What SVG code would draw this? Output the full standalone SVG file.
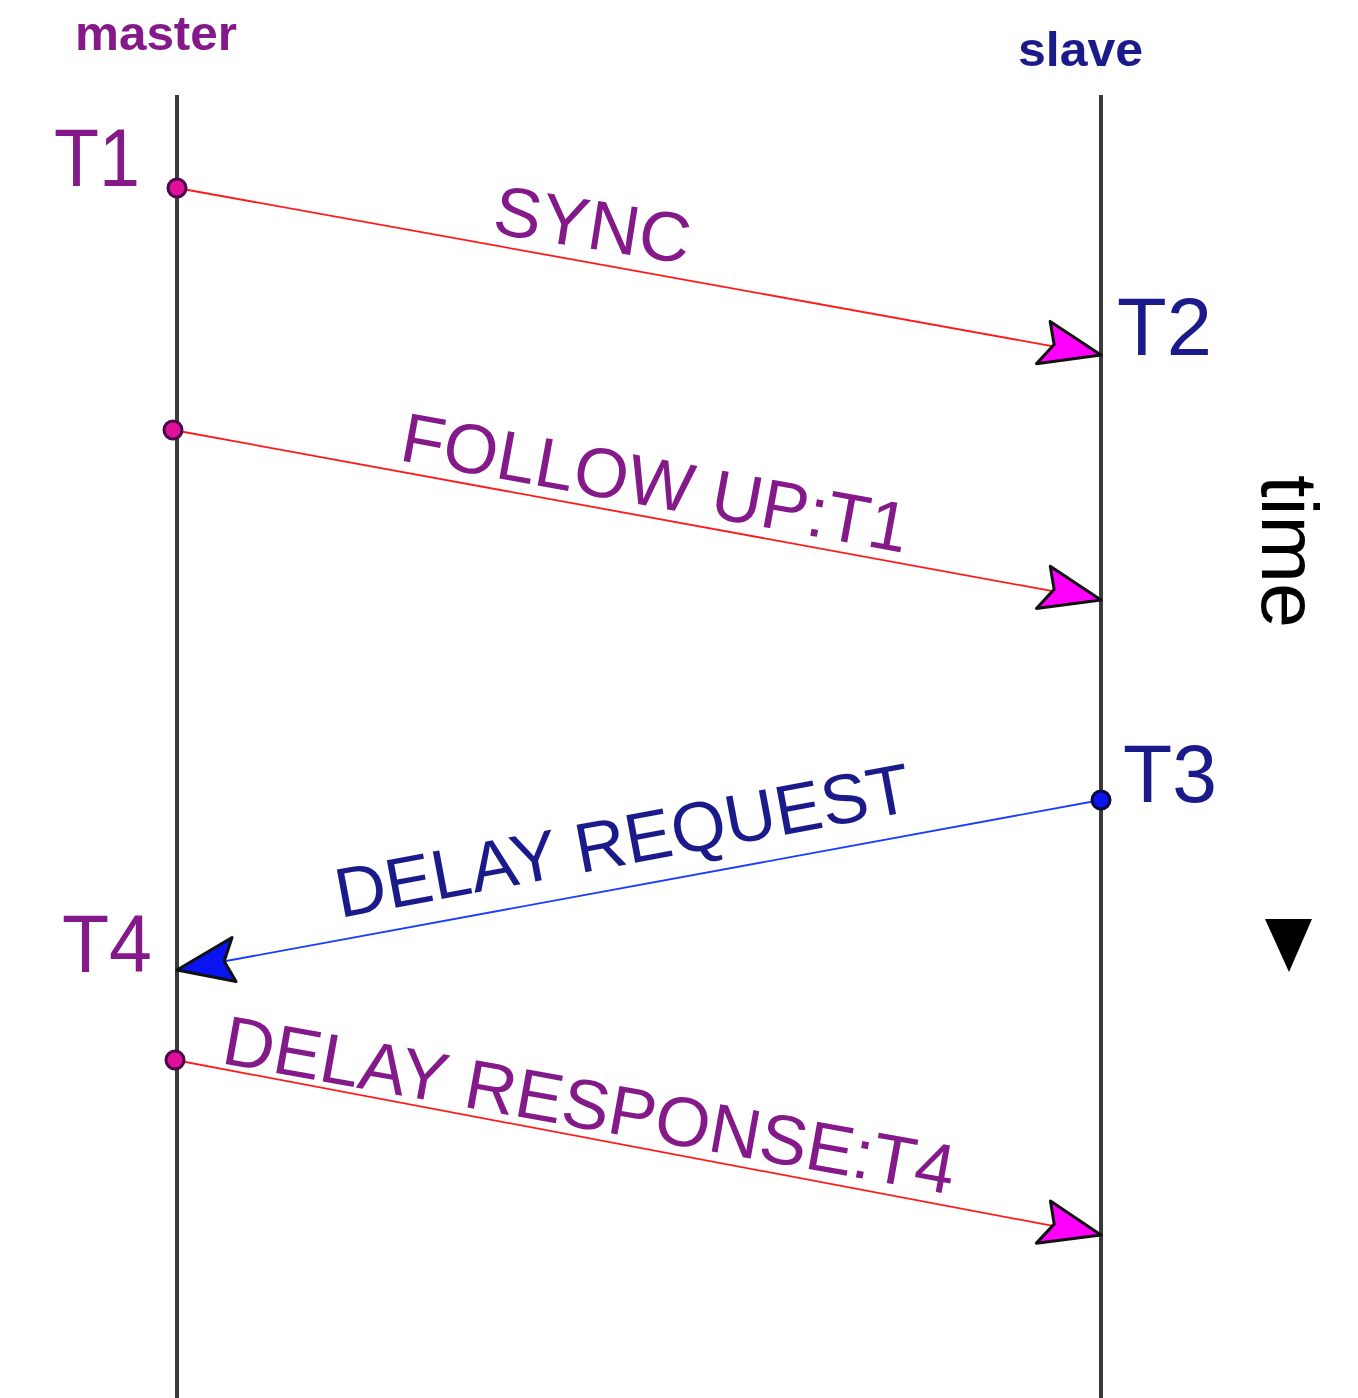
<svg xmlns="http://www.w3.org/2000/svg" width="1358" height="1398" viewBox="0 0 1358 1398">
<style>
text{font-family:"Liberation Sans",Arial,sans-serif}
.pu{fill:#84198a}
.nv{fill:#1a1a8a}
.life{stroke:#3a3a3a;stroke-width:4;fill:none}
.red{stroke:#ff1a1a;stroke-width:1.8;fill:none}
.blue{stroke:#1a3cff;stroke-width:1.8;fill:none}
.dotm{fill:#e0109a;stroke:#4a0a4a;stroke-width:3}
.dotb{fill:#0a14f0;stroke:#0a0a3a;stroke-width:3}
</style>
<defs>
<marker id="ahm" markerUnits="userSpaceOnUse" orient="auto" refX="0" refY="0" markerWidth="80" markerHeight="60" viewBox="-70 -30 80 60" overflow="visible">
<path d="M0,0 L-56,-24 L-48,-2 L-62,20 Z" fill="#ff00ff" stroke="#111" stroke-width="3" stroke-linejoin="round"/>
</marker>
<marker id="ahb" markerUnits="userSpaceOnUse" orient="auto" refX="0" refY="0" markerWidth="80" markerHeight="60" viewBox="-70 -30 80 60" overflow="visible">
<path d="M0,0 L-56,-22 L-48,0 L-60,22 Z" fill="#0a14f0" stroke="#111" stroke-width="3" stroke-linejoin="round"/>
</marker>
</defs>
<rect width="1358" height="1398" fill="#ffffff"/>
<g id="master">
<line class="life" x1="177" y1="95" x2="177" y2="1398"/>
<text class="pu" x="75" y="50" font-size="48" font-weight="bold" textLength="162" lengthAdjust="spacingAndGlyphs">master</text>
</g>
<g id="slave">
<line class="life" x1="1101" y1="95" x2="1101" y2="1398"/>
<text class="nv" x="1018" y="66" font-size="48" font-weight="bold" textLength="125" lengthAdjust="spacingAndGlyphs">slave</text>
</g>
<g id="labels-T">
<text class="pu" x="54" y="186" font-size="82" textLength="86" lengthAdjust="spacingAndGlyphs">T1</text>
<text class="nv" x="1117" y="355" font-size="82" textLength="95" lengthAdjust="spacingAndGlyphs">T2</text>
<text class="nv" x="1123" y="802" font-size="82" textLength="94" lengthAdjust="spacingAndGlyphs">T3</text>
<text class="pu" x="62" y="972" font-size="82" textLength="90" lengthAdjust="spacingAndGlyphs">T4</text>
</g>
<g id="connectors">
<line class="red" x1="177" y1="188" x2="1101" y2="355" marker-end="url(#ahm)"/>
<line class="red" x1="173" y1="430" x2="1101" y2="600" marker-end="url(#ahm)"/>
<line class="blue" x1="1101" y1="800" x2="177" y2="970" marker-end="url(#ahb)"/>
<line class="red" x1="175" y1="1060" x2="1101" y2="1235" marker-end="url(#ahm)"/>
<circle class="dotm" cx="177" cy="188" r="9"/>
<circle class="dotm" cx="173" cy="430" r="9"/>
<circle class="dotb" cx="1101" cy="800" r="9"/>
<circle class="dotm" cx="175" cy="1060" r="9"/>
</g>
<g id="msg-labels">
<text class="pu" transform="translate(491,233) rotate(9)" font-size="70" textLength="198" lengthAdjust="spacingAndGlyphs">SYNC</text>
<text class="pu" transform="translate(398,460) rotate(10.4)" font-size="70" textLength="514" lengthAdjust="spacingAndGlyphs">FOLLOW UP:T1</text>
<text class="nv" transform="translate(340,918) rotate(-10.6)" font-size="70" textLength="584" lengthAdjust="spacingAndGlyphs">DELAY REQUEST</text>
<text class="pu" transform="translate(220,1063) rotate(10.2)" font-size="70" textLength="742" lengthAdjust="spacingAndGlyphs">DELAY RESPONSE:T4</text>
</g>
<g id="time">
<text transform="translate(1262,475) rotate(90)" font-size="80" fill="#000" textLength="153" lengthAdjust="spacingAndGlyphs">time</text>
<path d="M1265,919 L1312,919 L1289,972 Z" fill="#000"/>
</g>
</svg>
